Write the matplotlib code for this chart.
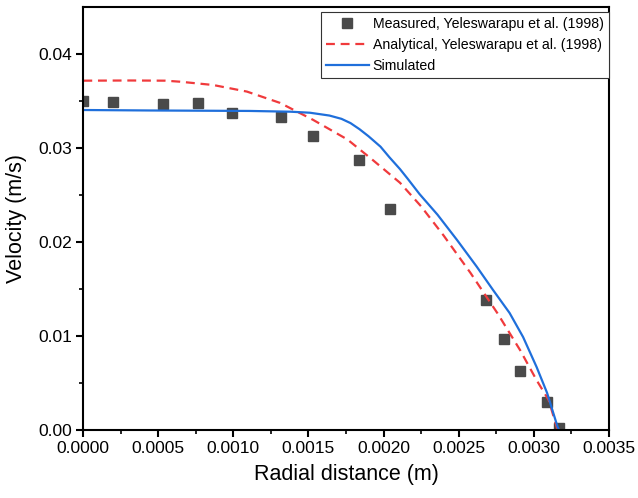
import numpy as np
import matplotlib
matplotlib.use("Agg")
import matplotlib.pyplot as plt

# Measured, Yeleswarapu et al. (1998)
r_meas = [0.0, 0.000196, 0.000529, 0.000765, 0.00099, 0.00132, 0.00153,
          0.00184, 0.00204, 0.00268, 0.00280, 0.00291, 0.00309, 0.00317]
v_meas = [0.0350, 0.03493, 0.03465, 0.03482, 0.03376, 0.03327, 0.03131,
          0.02872, 0.02348, 0.01383, 0.00968, 0.00631, 0.00301, 0.0002]

# Analytical, Yeleswarapu et al. (1998)
r_ana = [0.0, 0.000313, 0.000547, 0.000645, 0.000865, 0.00109, 0.00131,
         0.00153, 0.00176, 0.00193, 0.00211, 0.00225, 0.00240, 0.00258,
         0.00276, 0.00291, 0.00302, 0.00310, 0.00316]
v_ana = [0.03716, 0.03718, 0.03716, 0.03705, 0.0367, 0.0360, 0.0348,
         0.0330, 0.0309, 0.0287, 0.0263, 0.0238, 0.0207, 0.0167,
         0.0124, 0.0085, 0.0053, 0.0032, 0.0]

# Simulated
r_sim = [0.0, 0.000445, 0.00111, 0.00138, 0.00151, 0.00164, 0.00172,
         0.00178, 0.00184, 0.00190, 0.00198, 0.00204, 0.00211, 0.00216,
         0.00224, 0.00236, 0.00249, 0.00262, 0.00273, 0.00284, 0.00293,
         0.00302, 0.00309, 0.00316, 0.00317]
v_sim = [0.03404, 0.03399, 0.03394, 0.03386, 0.03375, 0.03345, 0.03310,
         0.03265, 0.03200, 0.03125, 0.03014, 0.02900, 0.02775, 0.02675,
         0.02510, 0.02290, 0.02021, 0.01740, 0.01489, 0.01245, 0.00989,
         0.00670, 0.00394, 0.00032, 0.0]

plt.rcParams['font.family'] = "sans-serif"
plt.rcParams['font.sans-serif'] = "Liberation Sans"

fig = plt.figure(figsize=(6.38, 4.98), dpi=100)
ax = fig.add_axes([0.1306, 0.1365, 0.954 - 0.1306, 0.986 - 0.1365])

ax.plot(r_meas, v_meas, ls="none", marker="s", ms=6.5, color="#4a4a4a",
        label="Measured, Yeleswarapu et al. (1998)")
ax.plot(r_ana, v_ana, ls=(0, (4, 2.6)), lw=1.6, color="#f03a3c",
        label="Analytical, Yeleswarapu et al. (1998)")
ax.plot(r_sim, v_sim, ls="-", lw=1.6, color="#1f6fdb", label="Simulated")

ax.set_xlim(0, 0.0035)
ax.set_ylim(0, 0.045)
ax.set_xticks(np.arange(0, 0.00351, 0.0005))
ax.set_xticks(np.arange(0.00025, 0.0035, 0.0005), minor=True)
ax.set_yticks([0.0, 0.01, 0.02, 0.03, 0.04])
ax.set_yticks([0.005, 0.015, 0.025, 0.035], minor=True)
ax.xaxis.set_major_formatter(matplotlib.ticker.FormatStrFormatter("%.4f"))
ax.yaxis.set_major_formatter(matplotlib.ticker.FormatStrFormatter("%.2f"))

for s in ax.spines.values():
    s.set_linewidth(1.5)
ax.tick_params(which="major", direction="out", length=5, width=1.5,
               labelsize=12.5, pad=3)
ax.tick_params(which="minor", direction="out", length=3, width=1.2)

ax.set_xlabel("Radial distance (m)", fontsize=15.5, labelpad=6)
ax.set_ylabel("Velocity (m/s)", fontsize=15.5, labelpad=8)

leg = ax.legend(loc="upper right", bbox_to_anchor=(1.0, 0.988),
                borderaxespad=0, fontsize=10.2, fancybox=False,
                handlelength=3.0, handletextpad=0.3, labelspacing=0.5,
                borderpad=0.35, framealpha=1)
leg.get_frame().set_edgecolor("#333333")
leg.get_frame().set_linewidth(0.8)

fig.savefig("out.png", dpi=100)
